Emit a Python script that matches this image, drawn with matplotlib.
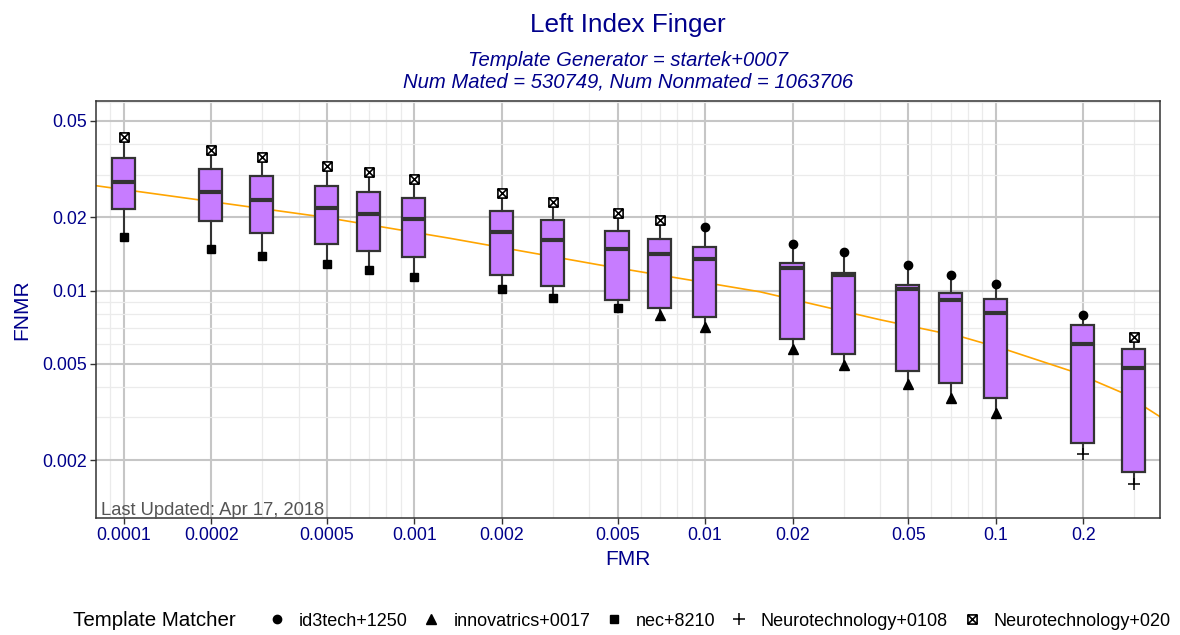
import matplotlib
matplotlib.use('Agg')
import matplotlib.pyplot as plt
from matplotlib.lines import Line2D
from matplotlib.path import Path
import numpy as np

plt.rcParams['font.family'] = ['Liberation Sans', 'DejaVu Sans']

fmr = [0.0001, 0.0002, 0.0003, 0.0005, 0.0007, 0.001, 0.002, 0.003, 0.005,
       0.007, 0.01, 0.02, 0.03, 0.05, 0.07, 0.1, 0.2, 0.3]
fnmr_lo = [0.01666, 0.01483, 0.01391, 0.01286, 0.01215, 0.0114, 0.01011, 0.00934, 0.00849,
           0.00793, 0.00709, 0.00573, 0.00493, 0.00412, 0.00362, 0.00312, 0.00213, 0.0016]
fnmr_q1 = [0.02161, 0.01939, 0.0173, 0.01555, 0.01455, 0.01378, 0.01158, 0.01043, 0.00914,
           0.00849, 0.0078, 0.00633, 0.00548, 0.00467, 0.00417, 0.00361, 0.00236, 0.00178]
fnmr_med = [0.02808, 0.02553, 0.02366, 0.02194, 0.02072, 0.01965, 0.01737, 0.0161, 0.01479,
            0.01414, 0.01352, 0.01241, 0.01158, 0.01017, 0.00914, 0.0081, 0.00602, 0.00481]
fnmr_q3 = [0.03505, 0.03158, 0.02963, 0.02696, 0.02553, 0.02412, 0.02133, 0.01952, 0.01758,
           0.01634, 0.01507, 0.01294, 0.01184, 0.0105, 0.00974, 0.00925, 0.00721, 0.00574]
fnmr_hi = [0.04302, 0.03793, 0.03538, 0.03267, 0.03078, 0.02879, 0.02514, 0.02322, 0.02086,
           0.01946, 0.01827, 0.01555, 0.01441, 0.01274, 0.01158, 0.01064, 0.00793, 0.00643]
# matcher sitting at the top / bottom whisker end
top_matcher = ['N020'] * 10 + ['id3'] * 7 + ['N020']
bottom_matcher = ['nec'] * 9 + ['innov'] * 7 + ['N0108'] * 2

# orange reference curve
curve_fmr = [8.04e-5, 1.832e-4, 4.85e-4, 1.327e-3, 4.35e-3, 0.01546, 0.03999, 0.0772,
             0.1094, 0.1845, 0.2741, 0.3674]
curve_fnmr = [0.02703, 0.0236, 0.02009, 0.01641, 0.01274, 0.00988, 0.00758, 0.00642,
              0.00569, 0.00463, 0.00378, 0.00302]

matchers = ['id3', 'innov', 'nec', 'N0108', 'N020']
matcher_labels = ['id3tech+1250', 'innovatrics+0017', 'nec+8210',
                  'Neurotechnology+0108', 'Neurotechnology+020']

x_major = [0.0001, 0.0002, 0.0005, 0.001, 0.002, 0.005, 0.01, 0.02, 0.05, 0.1, 0.2]
x_labels = ['0.0001', '0.0002', '0.0005', '0.001', '0.002', '0.005', '0.01', '0.02',
            '0.05', '0.1', '0.2']
y_major = [0.002, 0.005, 0.01, 0.02, 0.05]
y_labels = ['0.002', '0.005', '0.01', '0.02', '0.05']

boxed_x = Path([(-1, -1), (1, -1), (1, 1), (-1, 1), (-1, -1),
                (-1, -1), (1, 1), (-1, 1), (1, -1)],
               [Path.MOVETO, Path.LINETO, Path.LINETO, Path.LINETO, Path.CLOSEPOLY,
                Path.MOVETO, Path.LINETO, Path.MOVETO, Path.LINETO])
styles = {
    'id3': dict(marker='o', markersize=6, markerfacecolor='black', markeredgecolor='black'),
    'innov': dict(marker='^', markersize=7.2, markerfacecolor='black', markeredgecolor='black'),
    'nec': dict(marker='s', markersize=5.8, markerfacecolor='black', markeredgecolor='black'),
    'N0108': dict(marker='+', markersize=9, markeredgecolor='black', markeredgewidth=1.1),
    'N020': dict(marker=boxed_x, markersize=6.6, markerfacecolor='white',
                 markeredgecolor='black', markeredgewidth=1.2),
}

blue = '#00008B'
dark = '#333333'

fig = plt.figure(figsize=(11.8, 6.35), dpi=100)
ax = fig.add_axes([96 / 1180, 1 - 518 / 635, 1064 / 1180, 417 / 635])
ax.set_xscale('log')
ax.set_yscale('log')

ax.plot(curve_fmr, curve_fnmr, color='orange', linewidth=1.2, zorder=2)

stats = []
for i in range(len(fmr)):
    stats.append(dict(whislo=fnmr_lo[i], q1=fnmr_q1[i], med=fnmr_med[i],
                      q3=fnmr_q3[i], whishi=fnmr_hi[i]))
half = 0.0396
widths = [f * (10 ** half - 10 ** -half) for f in fmr]
ax.bxp(stats, positions=fmr, widths=widths, showfliers=False, showcaps=False,
       patch_artist=True, manage_ticks=False, zorder=3,
       boxprops=dict(facecolor='#C77CFF', edgecolor=dark, linewidth=1.6),
       whiskerprops=dict(color=dark, linewidth=1.5),
       medianprops=dict(color=dark, linewidth=3.0, solid_capstyle='butt'))

for i in range(len(fmr)):
    ax.plot([fmr[i]], [fnmr_hi[i]], linestyle='none', zorder=4, **styles[top_matcher[i]])
    ax.plot([fmr[i]], [fnmr_lo[i]], linestyle='none', zorder=4, **styles[bottom_matcher[i]])

ax.set_xticks(x_major)
ax.set_xticklabels(x_labels)
ax.set_yticks(y_major)
ax.set_yticklabels(y_labels)
x_minor = [m * 10.0 ** e for e in range(-5, 0) for m in range(1, 10)]
y_minor = [m * 10.0 ** e for e in range(-3, 0) for m in range(1, 10)]
ax.set_xticks(x_minor, minor=True)
ax.set_yticks(y_minor, minor=True)
ax.tick_params(axis='both', which='minor', length=0, labelleft=False, labelbottom=False)
ax.tick_params(axis='both', which='major', length=4.5, width=1.0, color=dark,
               labelcolor=blue, labelsize=12.8, pad=2)
ax.set_xlim(8.03e-5, 0.3674)
ax.set_ylim(0.001155, 0.0604)

ax.grid(True, which='major', color='#C6C6C6', linewidth=1.5, zorder=0)
ax.grid(True, which='minor', color='#EBEBEB', linewidth=0.9, zorder=0)
ax.set_axisbelow(True)
for s in ax.spines.values():
    s.set_color(dark)
    s.set_linewidth(1.1)

ax.set_xlabel('FMR', color=blue, fontsize=15, labelpad=4)
ax.set_ylabel('FNMR', color=blue, fontsize=15, labelpad=8)

ax.text(5 / 1064, 3 / 417, 'Last Updated: Apr 17, 2018', transform=ax.transAxes,
        color='#555555', fontsize=13.2, ha='left', va='baseline', zorder=5)

fig.text(628 / 1180, 1 - 32 / 635, 'Left Index Finger', color=blue, fontsize=18.8,
         ha='center', va='baseline')
fig.text(628 / 1180, 1 - 66.5 / 635, 'Template Generator = startek+0007', color=blue,
         fontsize=14.6, style='italic', ha='center', va='baseline')
fig.text(628 / 1180, 1 - 87 / 635, 'Num Mated = 530749, Num Nonmated = 1063706', color=blue,
         fontsize=14.6, style='italic', ha='center', va='baseline')

handles = [Line2D([], [], linestyle='none', **styles[m]) for m in matchers]
fig.text(73 / 1180, 1 - 621 / 635, 'Template Matcher', fontsize=14.8, ha='left', va='center')
fig.legend(handles, matcher_labels, ncol=5, loc='center left',
           bbox_to_anchor=(268 / 1180, 1 - 621 / 635), frameon=False, fontsize=13,
           handlelength=1.0, handletextpad=0.72, columnspacing=0.8,
           borderpad=0, borderaxespad=0)

fig.savefig('out.png', dpi=100)
